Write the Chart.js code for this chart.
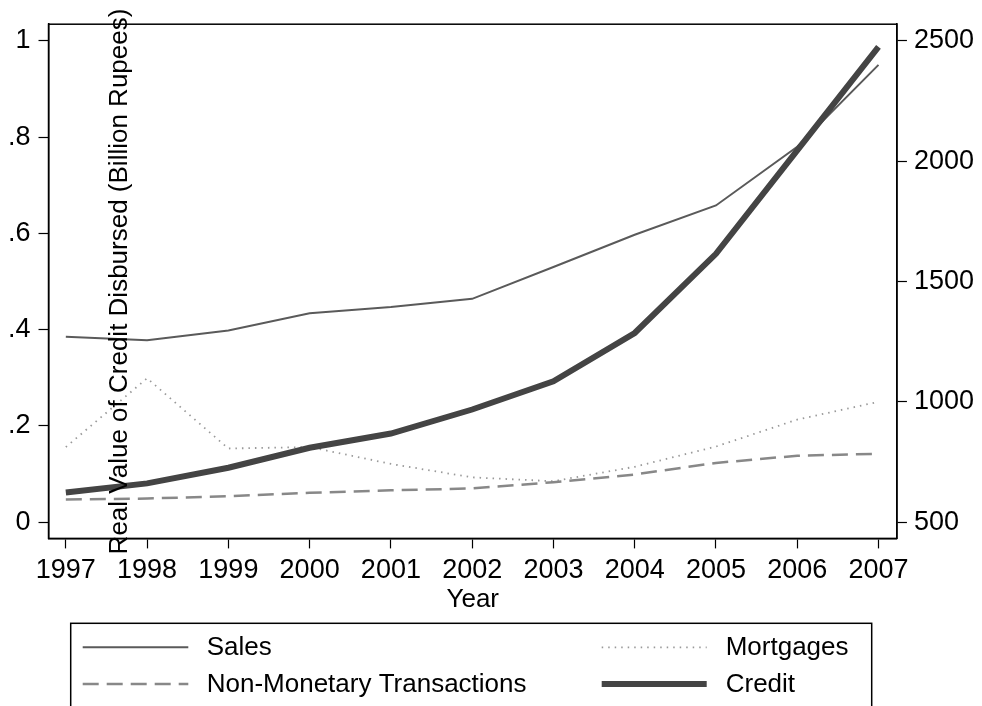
<!DOCTYPE html>
<html>
<head>
<meta charset="utf-8">
<script src="https://cdn.jsdelivr.net/npm/chart.js@4"></script>
<style>
  body { margin: 0; background: #fff; }
  canvas { display: block; }
</style>
</head>
<body>
<canvas id="chart" width="982" height="706"></canvas>
<script>
const years = [1997, 1998, 1999, 2000, 2001, 2002, 2003, 2004, 2005, 2006, 2007];

// left axis (0-1 index)
const sales = [0.385, 0.378, 0.398, 0.434, 0.447, 0.464, 0.530, 0.597, 0.658, 0.780, 0.950];
const mortgages = [0.156, 0.299, 0.153, 0.156, 0.121, 0.093, 0.085, 0.115, 0.157, 0.213, 0.250];
const nonMonetary = [0.047, 0.049, 0.054, 0.061, 0.066, 0.070, 0.083, 0.099, 0.123, 0.138, 0.142];

// right axis (billion rupees)
const credit = [623, 661, 726, 809, 868, 968, 1085, 1286, 1615, 2045, 2475];

const leftTicks = [0, 0.2, 0.4, 0.6, 0.8, 1];
const leftTickLabels = ["0", ".2", ".4", ".6", ".8", "1"];
const rightTicks = [500, 1000, 1500, 2000, 2500];

const FONT = "Liberation Sans, Arial, Helvetica, sans-serif";

const toPoints = (values) => values.map((v, i) => ({ x: years[i], y: v }));

// frame around the plot region, Stata style
const framePlugin = {
  id: "frame",
  afterDatasetsDraw(chart) {
    const { ctx, chartArea } = chart;
    ctx.save();
    ctx.strokeStyle = "#000";
    ctx.lineWidth = 1.5;
    ctx.strokeRect(chartArea.left, chartArea.top,
      chartArea.right - chartArea.left, chartArea.bottom - chartArea.top);
    ctx.restore();
  },
};

// rotated title sitting inside the plot, plus the boxed two-column legend
const overlayPlugin = {
  id: "overlay",
  afterDraw(chart) {
    const ctx = chart.ctx;
    ctx.save();
    ctx.fillStyle = "#000";
    ctx.font = "26px " + FONT;
    ctx.translate(127, 281.5);
    ctx.rotate(-Math.PI / 2);
    ctx.textAlign = "center";
    ctx.textBaseline = "alphabetic";
    ctx.fillText("Real Value of Credit Disbursed (Billion Rupees)", 0, 0);
    ctx.restore();

    ctx.save();
    ctx.strokeStyle = "#000";
    ctx.lineWidth = 1.5;
    ctx.strokeRect(70.7, 623.3, 801, 120);

    const ds = chart.data.datasets;
    const slots = [
      { d: ds[0], x0: 82.7, x1: 188.3, tx: 206.7, y: 647.3 },
      { d: ds[1], x0: 601.7, x1: 706.7, tx: 725.7, y: 647.3 },
      { d: ds[2], x0: 82.7, x1: 188.3, tx: 206.7, y: 684 },
      { d: ds[3], x0: 601.7, x1: 706.7, tx: 725.7, y: 684 },
    ];
    ctx.font = "26px " + FONT;
    ctx.textBaseline = "middle";
    ctx.textAlign = "left";
    slots.forEach((s) => {
      ctx.beginPath();
      ctx.setLineDash(s.d.borderDash || []);
      ctx.lineWidth = s.d.borderWidth;
      ctx.strokeStyle = s.d.borderColor;
      ctx.moveTo(s.x0, s.y);
      ctx.lineTo(s.x1, s.y);
      ctx.stroke();
      ctx.setLineDash([]);
      ctx.fillStyle = "#000";
      ctx.fillText(s.d.label, s.tx, s.y + 1);
    });
    ctx.restore();
  },
};

new Chart(document.getElementById("chart"), {
  type: "line",
  data: {
    datasets: [
      {
        label: "Sales",
        data: toPoints(sales),
        yAxisID: "y",
        borderColor: "#5a5a5a",
        borderWidth: 2,
        order: 4,
      },
      {
        label: "Mortgages",
        data: toPoints(mortgages),
        yAxisID: "y",
        borderColor: "#999999",
        borderWidth: 1.8,
        borderDash: [1.5, 5],
        order: 3,
      },
      {
        label: "Non-Monetary Transactions",
        data: toPoints(nonMonetary),
        yAxisID: "y",
        borderColor: "#888888",
        borderWidth: 2.5,
        borderDash: [16, 8],
        order: 2,
      },
      {
        label: "Credit",
        data: toPoints(credit),
        yAxisID: "y2",
        borderColor: "#444444",
        borderWidth: 6,
        order: 1,
      },
    ],
  },
  options: {
    responsive: false,
    animation: false,
    events: [],
    layout: {
      padding: { top: 24, left: 0, right: 1, bottom: 91 },
    },
    elements: {
      point: { radius: 0 },
      line: { tension: 0, fill: false },
    },
    plugins: {
      legend: { display: false },
      tooltip: { enabled: false },
    },
    scales: {
      x: {
        type: "linear",
        min: 1996.787,
        max: 2007.227,
        afterBuildTicks: (axis) => {
          axis.ticks = years.map((v) => ({ value: v }));
        },
        ticks: {
          color: "#000",
          font: { family: FONT, size: 27 },
          padding: 6,
          maxRotation: 0,
          autoSkip: false,
          callback: (value) => String(value),
        },
        grid: {
          drawOnChartArea: false,
          drawTicks: true,
          tickLength: 10,
          tickWidth: 1.2,
          tickColor: "#000",
        },
        border: { display: true, color: "#000", width: 1.5 },
        title: {
          display: true,
          text: "Year",
          color: "#000",
          font: { family: FONT, size: 26 },
          padding: { top: -9, bottom: 0 },
        },
      },
      y: {
        position: "left",
        min: -0.0338,
        max: 1.0346,
        afterBuildTicks: (axis) => {
          axis.ticks = leftTicks.map((v) => ({ value: v }));
        },
        ticks: {
          color: "#000",
          font: { family: FONT, size: 27 },
          padding: 8,
          callback: (value) => leftTickLabels[leftTicks.indexOf(value)],
        },
        grid: {
          drawOnChartArea: false,
          drawTicks: true,
          tickLength: 10,
          tickWidth: 1.2,
          tickColor: "#000",
        },
        border: { display: true, color: "#000", width: 1.5 },
      },
      y2: {
        position: "right",
        min: 432.4,
        max: 2569.2,
        afterBuildTicks: (axis) => {
          axis.ticks = rightTicks.map((v) => ({ value: v }));
        },
        ticks: {
          color: "#000",
          font: { family: FONT, size: 27 },
          padding: 7,
          callback: (value) => String(value),
        },
        grid: {
          drawOnChartArea: false,
          drawTicks: true,
          tickLength: 10,
          tickWidth: 1.2,
          tickColor: "#000",
        },
        border: { display: true, color: "#000", width: 1.5 },
      },
    },
  },
  plugins: [framePlugin, overlayPlugin],
});
</script>
</body>
</html>
